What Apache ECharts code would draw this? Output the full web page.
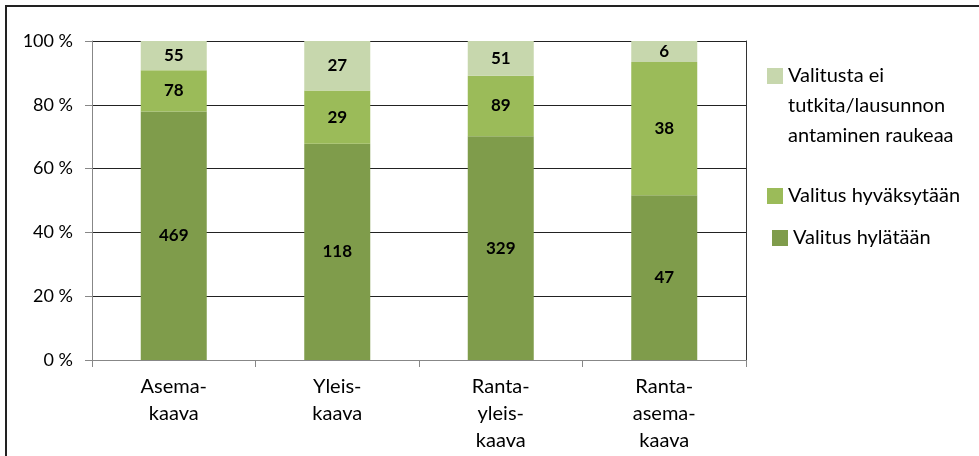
<!DOCTYPE html>
<html>
<head>
<meta charset="utf-8">
<script src="https://cdn.jsdelivr.net/npm/echarts@6/dist/echarts.min.js"></script>
<style>
  html, body { margin: 0; padding: 0; background: #fff; }
  #chart { width: 979px; height: 456px; }
</style>
</head>
<body>
<div id="chart"></div>
<script>
// kaavatyypit
const categories = ['Asema-\nkaava', 'Yleis-\nkaava', 'Ranta-\nyleis-\nkaava', 'Ranta-\nasema-\nkaava']
// lukumäärät
const hylataan = [469, 118, 329, 47]
const hyvaksytaan = [78, 29, 89, 38]
const eiTutkita = [55, 27, 51, 6]
const yTicks = [0, 20, 40, 60, 80, 100]

const seriesNames = ['Valitus hylätään', 'Valitus hyväksytään', 'Valitusta ei tutkita/lausunnon antaminen raukeaa']
const colors = ['#7f9c4b', '#9bbb59', '#c7d7ad']
const font = 'Lato, "Open Sans", sans-serif'

const totals = categories.map((c, i) => hylataan[i] + hyvaksytaan[i] + eiTutkita[i])
const toPct = (arr) => arr.map((v, i) => ({ value: v / totals[i] * 100, count: v }))

const chart = echarts.init(document.getElementById('chart'))

const makeSeries = (name, arr, color) => ({
    name: name,
    type: 'bar',
    stack: 'total',
    barWidth: 66,
    data: toPct(arr),
    itemStyle: { color: color },
    label: {
        show: true,
        position: 'inside',
        color: '#000',
        fontFamily: font,
        fontWeight: 'bold',
        fontSize: 17,
        formatter: (p) => p.data.count
    },
    emphasis: { disabled: true }
})

const legendBase = {
    orient: 'vertical',
    padding: 0,
    itemWidth: 16,
    itemHeight: 16,
    selectedMode: false,
    icon: 'rect',
    textStyle: { fontFamily: font, fontSize: 20, color: '#000', lineHeight: 30 }
}

let option = {
    animation: false,
    grid: { left: 92, right: 233, top: 41, bottom: 96 },
    graphic: [{
        type: 'rect',
        shape: { x: 6, y: 6, width: 1100, height: 1100 },
        style: { fill: 'none', stroke: '#222', lineWidth: 2 }
    }],
    legend: [
        Object.assign({}, legendBase, {
            left: 767, top: 1,
            data: [seriesNames[2]],
            // kaksi tyhjää riviä alkuun, jotta ikoni osuu ensimmäiselle riville
            formatter: () => '\n\nValitusta ei\ntutkita/lausunnon\nantaminen raukeaa'
        }),
        Object.assign({}, legendBase, { left: 767, top: 181, data: [seriesNames[1]] }),
        Object.assign({}, legendBase, { left: 772, top: 223, data: [seriesNames[0]] })
    ],
    xAxis: {
        type: 'category',
        data: categories,
        axisLine: { lineStyle: { color: '#878787' } },
        axisTick: { show: true, length: 7, lineStyle: { color: '#878787' } },
        axisLabel: {
            color: '#000', fontFamily: font, fontSize: 20, lineHeight: 27,
            margin: 13, verticalAlign: 'top'
        }
    },
    yAxis: [{
        type: 'value',
        min: 0, max: 100, interval: 20,
        axisLine: { show: true, lineStyle: { color: '#878787' } },
        axisTick: { show: true, length: 7, lineStyle: { color: '#878787' } },
        axisLabel: {
            color: '#000', fontFamily: font, fontSize: 18, margin: 19,
            formatter: (v) => yTicks.includes(v) ? v + ' %' : ''
        },
        splitLine: { lineStyle: { color: '#222' } }
    }, {
        type: 'value',
        position: 'right',
        min: 0, max: 100, interval: 20,
        axisLine: { show: true, lineStyle: { color: '#333' } },
        axisTick: { show: false },
        axisLabel: { show: false },
        splitLine: { show: false }
    }],
    series: [
        makeSeries(seriesNames[0], hylataan, colors[0]),
        makeSeries(seriesNames[1], hyvaksytaan, colors[1]),
        makeSeries(seriesNames[2], eiTutkita, colors[2])
    ]
}

chart.setOption(option)
</script>
</body>
</html>
